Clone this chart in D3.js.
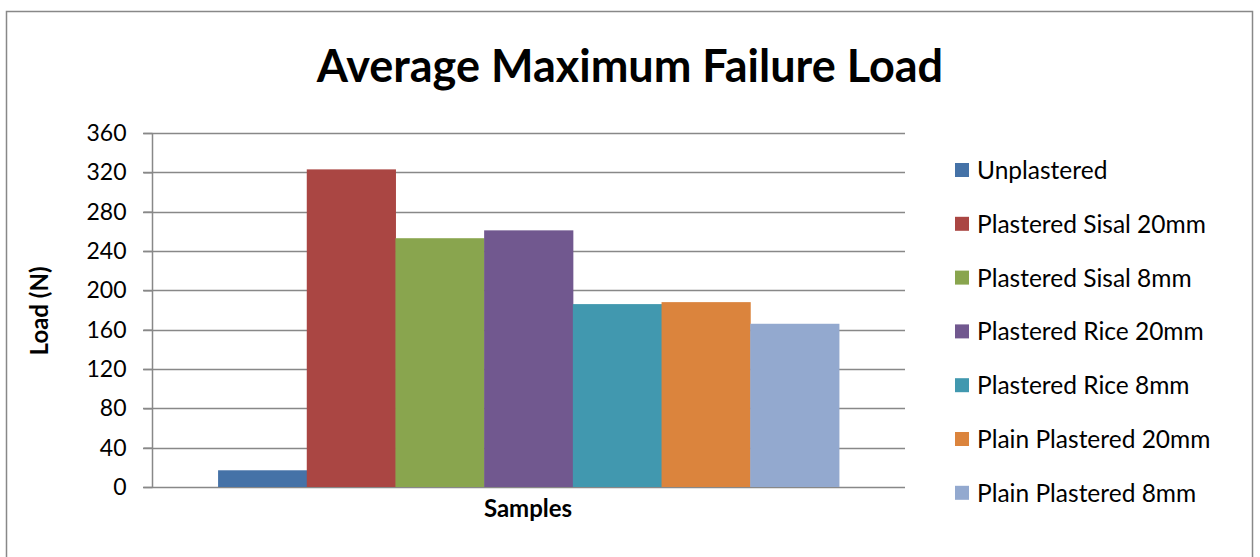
<!DOCTYPE html>
<html lang="en">
	<head>
		<title>Average Maximum Failure Load</title>
		<script src="https://d3js.org/d3.v7.min.js"></script>
		<style>
			body { margin: 0; background: #fff; }
			text { font-family: Lato, "Open Sans", sans-serif; fill: #000; }
		</style>
	</head>
	<body>
		<div id="chart"></div>
		<script>
			// series shown as bars inside the single "Samples" category
			var series = ["Unplastered", "Plastered Sisal 20mm", "Plastered Sisal 8mm", "Plastered Rice 20mm",
			              "Plastered Rice 8mm", "Plain Plastered 20mm", "Plain Plastered 8mm"];
			var values = [17, 323, 253, 261, 186, 188, 166];
			var colors = ["#4572A7", "#AA4643", "#89A54E", "#71588F", "#4198AF", "#DB843D", "#93A9CF"];
			var yTicks = [0, 40, 80, 120, 160, 200, 240, 280, 320, 360];

			var width = 1260, height = 557;
			var plot = {left: 152, right: 905, top: 133, bottom: 487};

			var svg = d3.select('#chart').append('svg')
					.attr('width', width)
					.attr('height', height);

			// outer chart border
			svg.append('rect')
				.attr('x', 6.5).attr('y', 11.5)
				.attr('width', 1246).attr('height', 560)
				.attr('fill', 'none')
				.attr('stroke', '#888')
				.attr('stroke-width', 1.5);

			var y = d3.scaleLinear().domain([0, 360]).range([plot.bottom, plot.top]);
			var x = d3.scaleBand().domain(series)
					.range([plot.left, plot.right])
					.paddingInner(0).paddingOuter(0.745);

			// gridlines
			svg.append('g').selectAll('line')
				.data(yTicks)
				.enter().append('line')
				.attr('x1', plot.left - 9).attr('x2', plot.right)
				.attr('y1', function(d) { return Math.round(y(d)) + 0.5; })
				.attr('y2', function(d) { return Math.round(y(d)) + 0.5; })
				.attr('stroke', '#888').attr('stroke-width', 1.5);

			// bars
			svg.append('g').selectAll('rect')
				.data(series)
				.enter().append('rect')
				.attr('x', function(d) { return x(d); })
				.attr('y', function(d, i) { return y(values[i]); })
				.attr('width', x.bandwidth() + 0.5)
				.attr('height', function(d, i) { return y(0) - y(values[i]); })
				.attr('fill', function(d, i) { return colors[i]; });

			// y axis
			var yAxis = svg.append('g')
				.attr('transform', 'translate(' + (plot.left + 0.5) + ',0)')
				.call(d3.axisLeft(y).tickValues(yTicks).tickSize(9).tickPadding(17).tickFormat(d3.format('d')));
			yAxis.selectAll('line').attr('stroke', '#888').attr('stroke-width', 1.5);
			yAxis.select('.domain').attr('stroke', '#888').attr('stroke-width', 1.5).attr('d', 'M0,' + plot.top + 'V' + plot.bottom);
			yAxis.selectAll('text')
				.attr('font-family', 'Lato, sans-serif')
				.attr('font-size', 23)
				.attr('fill', '#000');

			// title
			svg.append('text')
				.attr('x', 630).attr('y', 82)
				.attr('text-anchor', 'middle')
				.style('font-size', '45px').style('font-weight', 'bold')
				.text('Average Maximum Failure Load');

			// axis titles
			svg.append('text')
				.attr('transform', 'translate(48,311) rotate(-90)')
				.attr('text-anchor', 'middle')
				.style('font-size', '24px').style('font-weight', 'bold')
				.text('Load (N)');

			svg.append('text')
				.attr('x', 528).attr('y', 517)
				.attr('text-anchor', 'middle')
				.style('font-size', '24px').style('font-weight', 'bold')
				.text('Samples');

			// legend
			var legend = svg.append('g').selectAll('g')
				.data(series)
				.enter().append('g')
				.attr('transform', function(d, i) { return 'translate(955,' + (170 + i * 53.8) + ')'; });
			legend.append('rect')
				.attr('x', 0).attr('y', -7)
				.attr('width', 14).attr('height', 14)
				.attr('fill', function(d, i) { return colors[i]; });
			legend.append('text')
				.attr('x', 22).attr('y', 9)
				.style('font-size', '24.5px')
				.text(function(d) { return d; });
		</script>
	</body>
</html>
